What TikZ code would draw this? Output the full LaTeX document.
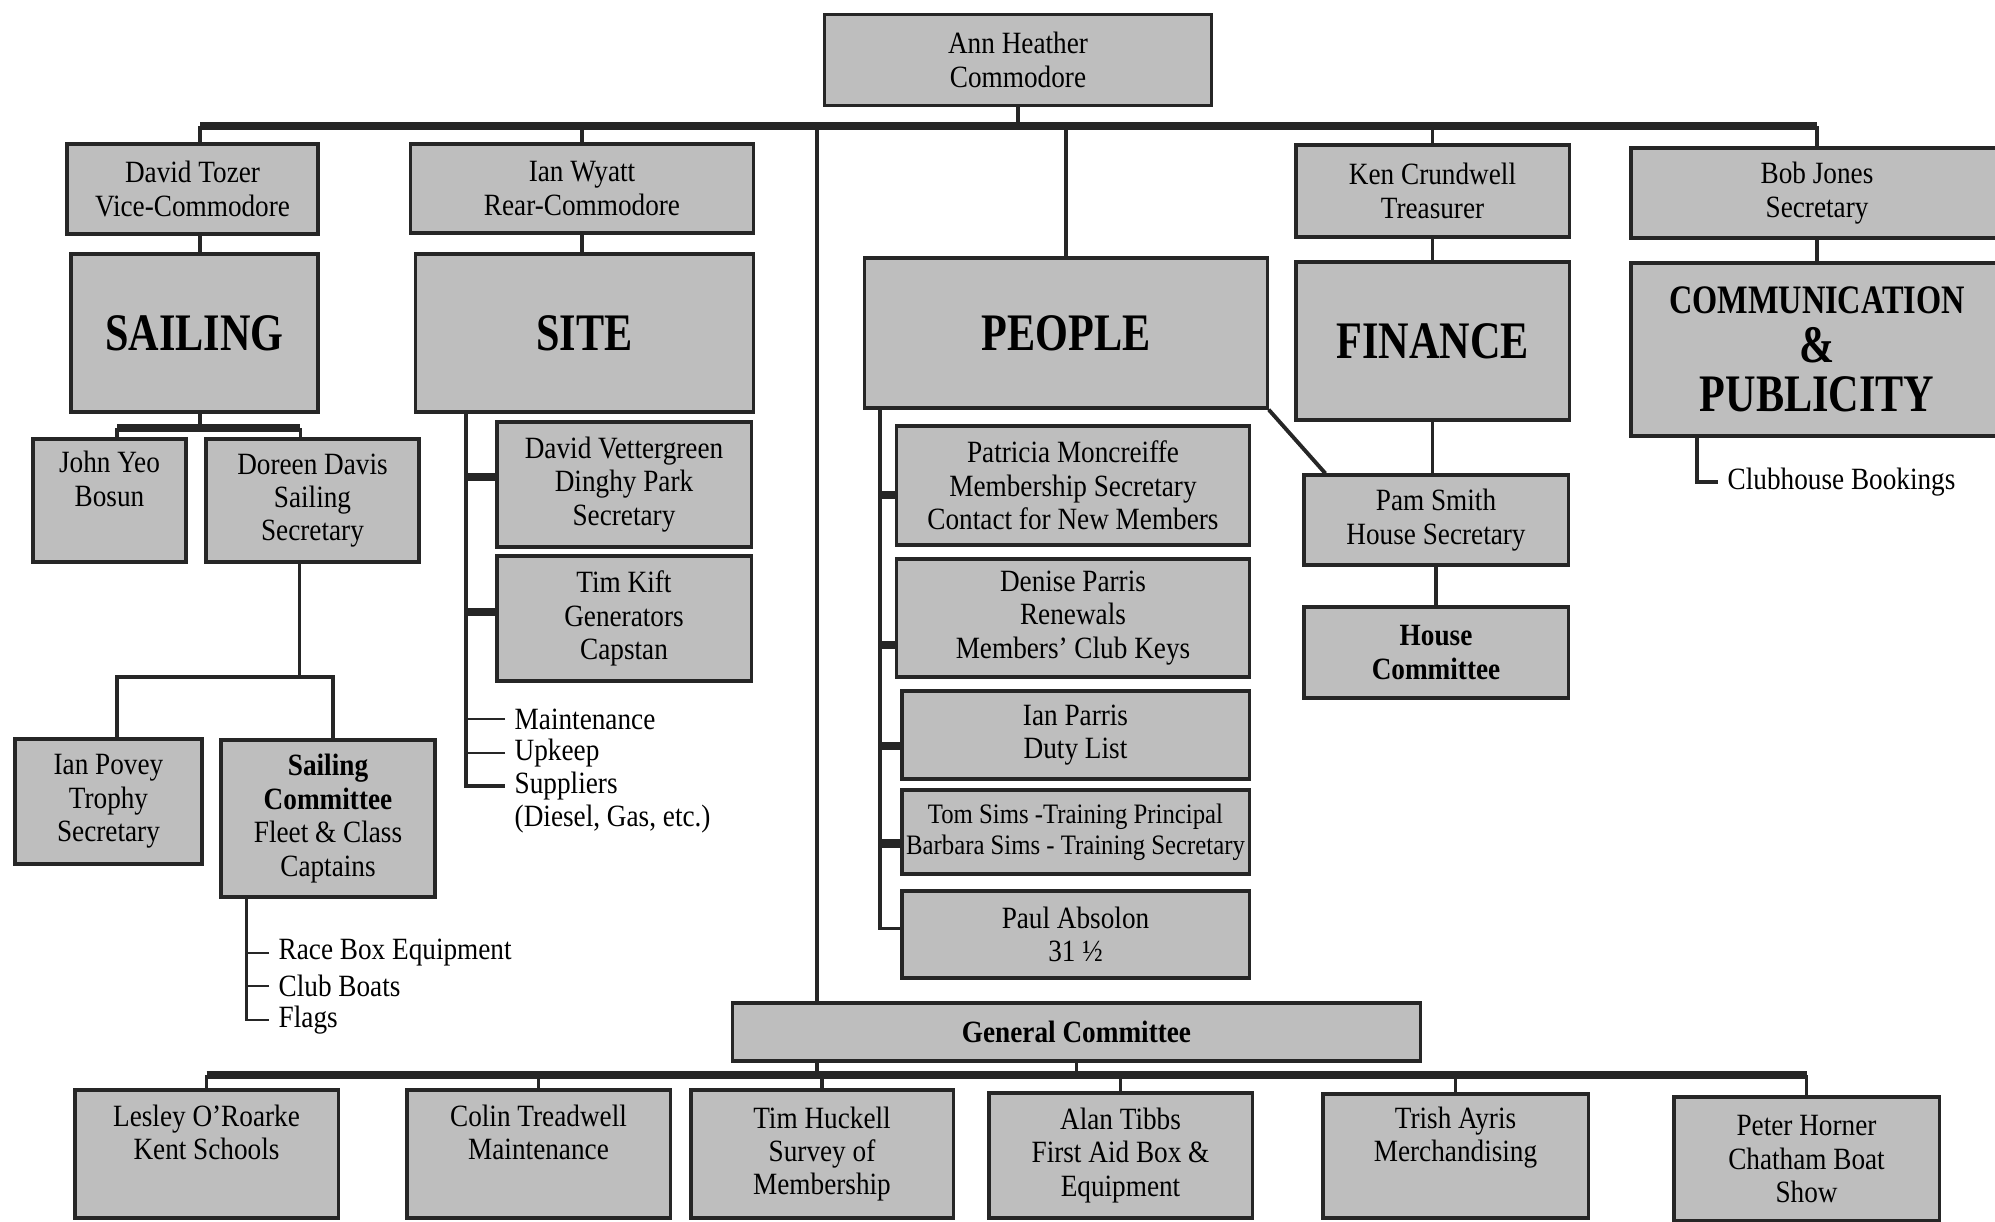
\documentclass[tikz,border=0pt]{standalone}
\usepackage{fontspec}
\setmainfont[FakeStretch=0.88]{Liberation Serif}
\newfontfamily\headfam[FakeStretch=0.8]{Liberation Serif}
\usepackage{tikz}
\usetikzlibrary{positioning}
\definecolor{boxgray}{RGB}{190,190,190}
\definecolor{ink}{RGB}{38,38,38}
\newcommand{\boxfont}{\fontsize{8.8}{9.5}\selectfont}
\newcommand{\headfont}{\headfam\bfseries\fontsize{15}{14}\selectfont}

\begin{document}
\begin{tikzpicture}[x=0.01cm,y=-0.01cm]
	\tikzstyle{postbox}=[rectangle, draw=ink, fill=boxgray, line width=0.9pt, inner sep=0pt, font=\boxfont]
	\tikzstyle{areabox}=[postbox, font=\headfont]
	\tikzstyle{link}=[draw=ink, line width=1.1pt]
	\tikzstyle{busline}=[draw=ink, line width=2.3pt]
	\tikzstyle{thinline}=[draw=ink, line width=0.7pt]
	\tikzstyle{listitem}=[font=\boxfont, inner sep=0.09cm, anchor=west]
	
	\useasboundingbox (0,0) rectangle (1995,1221);
	\fill[white] (0,0) rectangle (1995,1221);
	
	\node[postbox, minimum width=3.87cm, minimum height=0.91cm] (ann) at (1018,60) {\parbox{3.5cm}{\centering Ann Heather\\Commodore}};
	
	\node[postbox, minimum width=2.51cm, minimum height=0.90cm] (tozer) at (192.5,189) {\parbox{2.4cm}{\centering David Tozer\\Vice-Commodore}};
	\node[postbox, minimum width=3.42cm, minimum height=0.89cm] (wyatt) at (582,188.5) {\parbox{3.2cm}{\centering Ian Wyatt\\Rear-Commodore}};
	\node[postbox, minimum width=2.73cm, minimum height=0.92cm] (crundwell) at (1432.5,191) {\parbox{2.6cm}{\centering Ken Crundwell\\Treasurer}};
	\node[postbox, minimum width=3.72cm, minimum height=0.90cm] (jones) at (1817,193) {\parbox{3.5cm}{\centering Bob Jones\\Secretary}};
	
	\node[areabox, minimum width=2.47cm, minimum height=1.58cm] (sailing) at (194.5,333) {\parbox{2.4cm}{\centering SAILING}};
	\node[areabox, minimum width=3.37cm, minimum height=1.58cm] (site) at (584.5,333) {\parbox{3.2cm}{\centering SITE}};
	\node[areabox, minimum width=4.02cm, minimum height=1.50cm] (people) at (1066,333) {\parbox{3.8cm}{\centering PEOPLE}};
	\node[areabox, minimum width=2.73cm, minimum height=1.58cm] (finance) at (1432.5,341) {\parbox{2.6cm}{\centering FINANCE}};
	\node[areabox, minimum width=3.72cm, minimum height=1.73cm] (comm) at (1817,349.5) {\parbox{3.6cm}{\centering{\fontsize{11.5}{14}\selectfont COMMUNICATION}\\\&\\PUBLICITY}};
	
	\node[postbox, minimum width=1.53cm, minimum height=1.23cm] (john) at (109.5,500.5) {\parbox{1.45cm}{\centering John Yeo\\Bosun\\\strut}};
	\node[postbox, minimum width=2.13cm, minimum height=1.23cm] (doreen) at (312.5,500.5) {\parbox{2.0cm}{\centering Doreen Davis\\Sailing\\Secretary}};
	\node[postbox, minimum width=1.87cm, minimum height=1.25cm] (povey) at (108.5,801.5) {\parbox{1.8cm}{\centering Ian Povey\\Trophy\\Secretary}};
	\node[postbox, minimum width=2.14cm, minimum height=1.57cm] (sailcom) at (328,818.5) {\parbox{2.05cm}{\centering \textbf{Sailing}\\\textbf{Committee}\\Fleet \& Class\\Captains}};
	
	\node[postbox, minimum width=2.54cm, minimum height=1.25cm] (vett) at (624,484.5) {\parbox{2.45cm}{\centering David Vettergreen\\Dinghy Park\\Secretary}};
	\node[postbox, minimum width=2.54cm, minimum height=1.25cm] (kift) at (624,618.5) {\parbox{2.45cm}{\centering Tim Kift\\Generators\\Capstan}};
	
	\node[postbox, minimum width=3.52cm, minimum height=1.19cm] (patricia) at (1073,485.5) {\parbox{3.4cm}{\centering Patricia Moncreiffe\\Membership Secretary\\Contact for New Members}};
	\node[postbox, minimum width=3.52cm, minimum height=1.18cm] (denise) at (1073,618) {\parbox{3.4cm}{\centering Denise Parris\\Renewals\\Members' Club Keys}};
	\node[postbox, minimum width=3.47cm, minimum height=0.88cm] (parris) at (1075.5,735) {\parbox{3.3cm}{\centering Ian Parris\\Duty List}};
	\node[postbox, minimum width=3.47cm, minimum height=0.84cm, font=\fontsize{8}{8.7}\selectfont] (sims) at (1075.5,832) {\parbox{3.47cm}{\centering Tom Sims -Training Principal\\Barbara Sims - Training Secretary}};
	\node[postbox, minimum width=3.47cm, minimum height=0.87cm] (paul) at (1075.5,934.5) {\parbox{3.3cm}{\centering Paul Absolon\\31 ½}};
	
	\node[postbox, minimum width=2.64cm, minimum height=0.90cm] (pam) at (1436,520) {\parbox{2.5cm}{\centering Pam Smith\\House Secretary}};
	\node[postbox, minimum width=2.64cm, minimum height=0.91cm] (housecom) at (1436,652.5) {\parbox{2.5cm}{\centering \textbf{House}\\\textbf{Committee}}};
	
	\node[postbox, minimum width=6.87cm, minimum height=0.58cm] (gc) at (1076.5,1032) {\textbf{General Committee}};
	
	\node[postbox, minimum width=2.63cm, minimum height=1.28cm] (lesley) at (206.5,1154) {\parbox{2.5cm}{\centering Lesley O'Roarke\\Kent Schools\\\strut}};
	\node[postbox, minimum width=2.63cm, minimum height=1.28cm] (colin) at (538.5,1154) {\parbox{2.5cm}{\centering Colin Treadwell\\Maintenance\\\strut}};
	\node[postbox, minimum width=2.62cm, minimum height=1.28cm] (huckell) at (822,1154) {\parbox{2.5cm}{\centering Tim Huckell\\Survey of\\Membership}};
	\node[postbox, minimum width=2.63cm, minimum height=1.25cm] (tibbs) at (1120.5,1155.5) {\parbox{2.5cm}{\centering Alan Tibbs\\First Aid Box \&\\Equipment}};
	\node[postbox, minimum width=2.65cm, minimum height=1.24cm] (trish) at (1455.5,1156) {\parbox{2.5cm}{\centering Trish Ayris\\Merchandising\\\strut}};
	\node[postbox, minimum width=2.65cm, minimum height=1.24cm] (horner) at (1806.5,1159) {\parbox{2.5cm}{\centering Peter Horner\\Chatham Boat\\Show}};
	
	\node[listitem] (racebox) at (269,953) {Race Box Equipment};
	\node[listitem] (boats) at (269,986) {Club Boats};
	\node[listitem] (flags) at (269,1020) {Flags};
	\node[listitem] (maint) at (505,719) {Maintenance};
	\node[listitem] (upkeep) at (505,753) {Upkeep};
	\node[listitem] (suppl) at (505,786) {Suppliers};
	\node[listitem] (diesel) at (505,819) {(Diesel, Gas, etc.)};
	\node[listitem] (clubhouse) at (1718,482) {Clubhouse Bookings};
	
	\coordinate (topbar) at (0,126);
	\coordinate (spine) at (817,126);
	\coordinate (sailbar) at (0,428);
	\coordinate (dorbar) at (0,677);
	\coordinate (botbar) at (0,1075);
	\coordinate (sclist) at ([xshift=0.27cm]sailcom.south west);
	\coordinate (sitelist) at ([xshift=0.52cm]site.south west);
	\coordinate (peoplelist) at ([xshift=0.17cm]people.south west);
	\coordinate (commlist) at ([xshift=0.68cm]comm.south west);
	
	\draw[busline] ([xshift=0.075cm]tozer.north |- topbar) -- (jones.north |- topbar);
	\draw[link] (ann.south) -- (ann.south |- topbar);
	\draw[link] ([xshift=0.075cm]tozer.north) -- ([xshift=0.075cm]tozer.north |- topbar);
	\draw[link] (wyatt.north) -- (wyatt.north |- topbar);
	\draw[link] (people.north) -- (people.north |- topbar);
	\draw[link] (crundwell.north) -- (crundwell.north |- topbar);
	\draw[link] (jones.north) -- (jones.north |- topbar);
	\draw[link] (spine) -- (spine |- gc.north);
	
	\draw[link] ([xshift=0.075cm]tozer.south) -- ([xshift=0.075cm]tozer.south |- sailing.north);
	\draw[link] (wyatt.south) -- (wyatt.south |- site.north);
	\draw[link] (crundwell.south) -- (crundwell.south |- finance.north);
	\draw[link] (jones.south) -- (jones.south |- comm.north);
	
	\draw[link] ([xshift=0.055cm]sailing.south) -- ([xshift=0.055cm]sailing.south |- sailbar);
	\draw[busline] ([xshift=0.075cm]john.north |- sailbar) -- ([xshift=-0.12cm]doreen.north |- sailbar);
	\draw[link] ([xshift=0.075cm]john.north) -- ([xshift=0.075cm]john.north |- sailbar);
	\draw[link] ([xshift=-0.12cm]doreen.north) -- ([xshift=-0.12cm]doreen.north |- sailbar);
	\draw[link] ([xshift=-0.13cm]doreen.south) -- ([xshift=-0.13cm]doreen.south |- dorbar);
	\draw[link] ([xshift=0.085cm]povey.north) |- ([xshift=0.05cm]sailcom.north |- dorbar) -- ([xshift=0.05cm]sailcom.north);
	\draw[thinline] (sclist) |- (flags.west);
	\draw[thinline] (racebox.west) -- (racebox.west -| sclist);
	\draw[thinline] (boats.west) -- (boats.west -| sclist);
	
	\draw[link] (sitelist) |- (suppl.west);
	\draw[busline] ([yshift=0.075cm]vett.west) -- ([yshift=0.075cm]vett.west -| sitelist);
	\draw[busline] ([yshift=0.065cm]kift.west) -- ([yshift=0.065cm]kift.west -| sitelist);
	\draw[thinline] (maint.west) -- (maint.west -| sitelist);
	\draw[thinline] (upkeep.west) -- (upkeep.west -| sitelist);
	
	\draw[link] (peoplelist) |- ([yshift=0.06cm]paul.west);
	\draw[busline] ([yshift=-0.095cm]patricia.west) -- ([yshift=-0.095cm]patricia.west -| peoplelist);
	\draw[busline] ([yshift=-0.27cm]denise.west) -- ([yshift=-0.27cm]denise.west -| peoplelist);
	\draw[busline] ([yshift=-0.11cm]parris.west) -- ([yshift=-0.11cm]parris.west -| peoplelist);
	\draw[busline] ([yshift=-0.115cm]sims.west) -- ([yshift=-0.115cm]sims.west -| peoplelist);
	
	\draw[link] (people.south east) -- ([xshift=0.23cm]pam.north west);
	\draw[link] (finance.south) -- (finance.south |- pam.north);
	\draw[link] (pam.south) -- (pam.south |- housecom.north);
	\draw[link] (commlist) |- (clubhouse.west);
	
	\draw[busline] (lesley.north |- botbar) -- (horner.north |- botbar);
	\draw[link] (spine |- gc.south) -- (spine |- botbar);
	\draw[link] (gc.south) -- (gc.south |- botbar);
	\draw[link] (lesley.north) -- (lesley.north |- botbar);
	\draw[link] (colin.north) -- (colin.north |- botbar);
	\draw[link] (huckell.north) -- (huckell.north |- botbar);
	\draw[link] (tibbs.north) -- (tibbs.north |- botbar);
	\draw[link] (trish.north) -- (trish.north |- botbar);
	\draw[link] (horner.north) -- (horner.north |- botbar);
	
\end{tikzpicture}
\end{document}
